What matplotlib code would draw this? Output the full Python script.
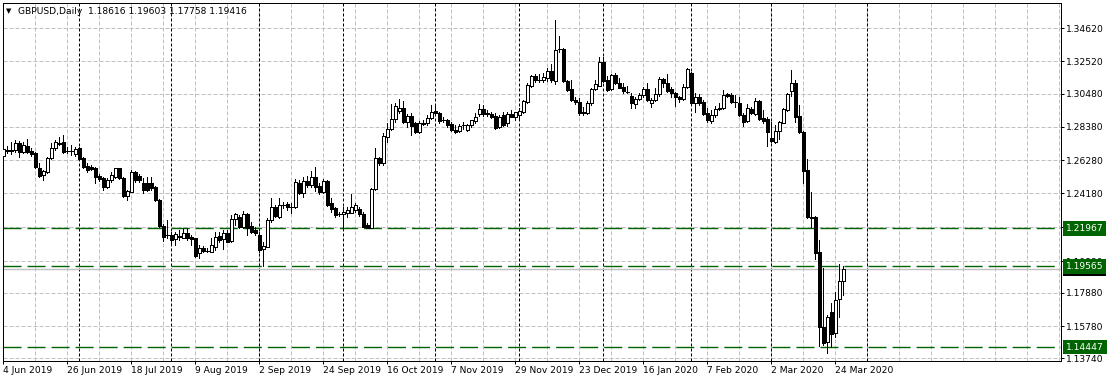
import numpy as np
import matplotlib
matplotlib.use("Agg")
import matplotlib.pyplot as plt

# GBPUSD daily candles, one entry per trading day from 4 Jun 2019
opens = [
    1.2656, 1.2692, 1.2686, 1.2692, 1.2734, 1.2681, 1.2720, 1.2686, 1.2671, 1.2580,
    1.2534, 1.2555, 1.2640, 1.2703, 1.2734, 1.2745, 1.2686, 1.2686, 1.2665, 1.2703,
    1.2643, 1.2593, 1.2586, 1.2580, 1.2526, 1.2517, 1.2460, 1.2502, 1.2523, 1.2576,
    1.2517, 1.2403, 1.2428, 1.2551, 1.2526, 1.2481, 1.2481, 1.2481, 1.2455, 1.2376,
    1.2213, 1.2154, 1.2154, 1.2127, 1.2143, 1.2137, 1.2165, 1.2143, 1.2133, 1.2038,
    1.2074, 1.2056, 1.2045, 1.2080, 1.2148, 1.2127, 1.2169, 1.2118, 1.2254, 1.2270,
    1.2207, 1.2287, 1.2211, 1.2186, 1.2154, 1.2064, 1.2080, 1.2249, 1.2329, 1.2270,
    1.2344, 1.2350, 1.2333, 1.2333, 1.2481, 1.2422, 1.2498, 1.2470, 1.2519, 1.2464,
    1.2428, 1.2498, 1.2355, 1.2323, 1.2287, 1.2287, 1.2296, 1.2296, 1.2312, 1.2317,
    1.2287, 1.2217, 1.2197, 1.2444, 1.2640, 1.2608, 1.2776, 1.2823, 1.2886, 1.2941,
    1.2956, 1.2871, 1.2907, 1.2861, 1.2808, 1.2857, 1.2861, 1.2892, 1.2939, 1.2924,
    1.2882, 1.2882, 1.2855, 1.2819, 1.2815, 1.2850, 1.2819, 1.2850, 1.2876, 1.2918,
    1.2951, 1.2924, 1.2918, 1.2907, 1.2840, 1.2913, 1.2861, 1.2918, 1.2903, 1.2913,
    1.2934, 1.2993, 1.3099, 1.3160, 1.3135, 1.3135, 1.3149, 1.3192, 1.3129, 1.3329,
    1.3331, 1.3129, 1.3078, 1.3008, 1.2993, 1.2930, 1.2928, 1.2987, 1.3078, 1.3099,
    1.3251, 1.3135, 1.3078, 1.3167, 1.3114, 1.3093, 1.3062, 1.3035, 1.2983, 1.3013,
    1.3040, 1.3076, 1.2991, 1.3008, 1.3046, 1.3139, 1.3118, 1.3076, 1.3055, 1.3029,
    1.3013, 1.3089, 1.3181, 1.2991, 1.3029, 1.2998, 1.2928, 1.2878, 1.2913, 1.2949,
    1.2956, 1.3046, 1.3040, 1.2998, 1.2991, 1.2913, 1.2878, 1.2949, 1.2920, 1.3004,
    1.2892, 1.2886, 1.2766, 1.2745, 1.2814, 1.2865, 1.2945, 1.3067, 1.3118, 1.2907,
    1.2808, 1.2565, 1.2270, 1.2268, 1.2049, 1.1574, 1.1477, 1.1669, 1.1532, 1.1747,
    1.18616,
]
highs = [
    1.2724, 1.2717, 1.2743, 1.2755, 1.2749, 1.2745, 1.2762, 1.2705, 1.2681, 1.2608,
    1.2565, 1.2650, 1.2734, 1.2755, 1.2776, 1.2787, 1.2713, 1.2724, 1.2713, 1.2713,
    1.2650, 1.2608, 1.2597, 1.2586, 1.2538, 1.2523, 1.2517, 1.2555, 1.2580, 1.2580,
    1.2523, 1.2439, 1.2565, 1.2559, 1.2538, 1.2513, 1.2523, 1.2523, 1.2467, 1.2382,
    1.2222, 1.2249, 1.2171, 1.2175, 1.2186, 1.2200, 1.2200, 1.2154, 1.2137, 1.2091,
    1.2087, 1.2070, 1.2133, 1.2175, 1.2175, 1.2186, 1.2186, 1.2281, 1.2295, 1.2281,
    1.2308, 1.2291, 1.2238, 1.2207, 1.2175, 1.2112, 1.2260, 1.2386, 1.2344, 1.2386,
    1.2365, 1.2365, 1.2355, 1.2507, 1.2502, 1.2519, 1.2527, 1.2561, 1.2582, 1.2481,
    1.2507, 1.2502, 1.2386, 1.2333, 1.2302, 1.2331, 1.2333, 1.2414, 1.2355, 1.2333,
    1.2302, 1.2228, 1.2450, 1.2703, 1.2650, 1.2801, 1.2865, 1.2983, 1.2991, 1.3013,
    1.3004, 1.2920, 1.2924, 1.2871, 1.2877, 1.2882, 1.2913, 1.2977, 1.2981, 1.2934,
    1.2903, 1.2888, 1.2871, 1.2850, 1.2857, 1.2869, 1.2857, 1.2882, 1.2926, 1.2981,
    1.2977, 1.2945, 1.2932, 1.2926, 1.2913, 1.2934, 1.2934, 1.2945, 1.2934, 1.2958,
    1.3008, 1.3114, 1.3167, 1.3171, 1.3173, 1.3177, 1.3211, 1.3236, 1.3515, 1.3413,
    1.3336, 1.3135, 1.3135, 1.3027, 1.3021, 1.2964, 1.3002, 1.3084, 1.3135, 1.3280,
    1.3280, 1.3160, 1.3173, 1.3179, 1.3148, 1.3116, 1.3097, 1.3053, 1.3025, 1.3051,
    1.3089, 1.3114, 1.3019, 1.3082, 1.3152, 1.3146, 1.3173, 1.3093, 1.3061, 1.3034,
    1.3110, 1.3209, 1.3186, 1.3051, 1.3046, 1.3008, 1.2956, 1.2945, 1.2970, 1.2987,
    1.3072, 1.3055, 1.3055, 1.3040, 1.3025, 1.2924, 1.2983, 1.2962, 1.3019, 1.3008,
    1.2945, 1.2903, 1.2871, 1.2850, 1.2877, 1.2956, 1.3055, 1.3198, 1.3135, 1.2977,
    1.2812, 1.2633, 1.2428, 1.2274, 1.2123, 1.1945, 1.1648, 1.1722, 1.1796, 1.1971,
    1.19603,
]
lows = [
    1.2641, 1.2673, 1.2667, 1.2681, 1.2650, 1.2673, 1.2673, 1.2656, 1.2576, 1.2521,
    1.2502, 1.2545, 1.2635, 1.2692, 1.2724, 1.2671, 1.2671, 1.2660, 1.2656, 1.2629,
    1.2580, 1.2555, 1.2565, 1.2481, 1.2496, 1.2439, 1.2450, 1.2491, 1.2513, 1.2508,
    1.2397, 1.2376, 1.2428, 1.2488, 1.2491, 1.2418, 1.2433, 1.2439, 1.2369, 1.2207,
    1.2116, 1.2133, 1.2102, 1.2091, 1.2123, 1.2133, 1.2123, 1.2091, 1.2017, 1.2011,
    1.2045, 1.2045, 1.2045, 1.2059, 1.2112, 1.2064, 1.2108, 1.2112, 1.2217, 1.2197,
    1.2197, 1.2154, 1.2165, 1.2154, 1.2047, 1.1958, 1.2080, 1.2238, 1.2266, 1.2260,
    1.2323, 1.2312, 1.2291, 1.2323, 1.2414, 1.2397, 1.2460, 1.2460, 1.2434, 1.2414,
    1.2418, 1.2338, 1.2302, 1.2266, 1.2274, 1.2199, 1.2270, 1.2291, 1.2302, 1.2274,
    1.2207, 1.2197, 1.2197, 1.2439, 1.2597, 1.2597, 1.2745, 1.2819, 1.2871, 1.2924,
    1.2865, 1.2839, 1.2787, 1.2801, 1.2798, 1.2847, 1.2850, 1.2885, 1.2924, 1.2861,
    1.2867, 1.2839, 1.2812, 1.2800, 1.2808, 1.2825, 1.2812, 1.2838, 1.2863, 1.2907,
    1.2907, 1.2907, 1.2894, 1.2825, 1.2831, 1.2844, 1.2844, 1.2901, 1.2882, 1.2894,
    1.2926, 1.2989, 1.3091, 1.3122, 1.3120, 1.3122, 1.3129, 1.3122, 1.3110, 1.3314,
    1.3125, 1.3065, 1.3002, 1.2983, 1.2913, 1.2913, 1.2920, 1.2977, 1.3072, 1.3097,
    1.3122, 1.3065, 1.3072, 1.3110, 1.3084, 1.3053, 1.3053, 1.2958, 1.2956, 1.3008,
    1.3029, 1.3004, 1.2962, 1.3004, 1.3034, 1.3093, 1.3061, 1.3029, 1.2970, 1.2998,
    1.3008, 1.3082, 1.2977, 1.2934, 1.2977, 1.2913, 1.2871, 1.2865, 1.2903, 1.2945,
    1.2949, 1.3029, 1.2991, 1.2966, 1.2907, 1.2844, 1.2871, 1.2920, 1.2913, 1.2882,
    1.2861, 1.2717, 1.2745, 1.2738, 1.2760, 1.2861, 1.2941, 1.3034, 1.2871, 1.2801,
    1.2485, 1.2260, 1.2207, 1.2000, 1.1452, 1.1458, 1.1410, 1.1447, 1.1509, 1.1637,
    1.17758,
]
closes = [
    1.2698, 1.2686, 1.2689, 1.2734, 1.2681, 1.2724, 1.2681, 1.2665, 1.2586, 1.2526,
    1.2559, 1.2640, 1.2707, 1.2745, 1.2731, 1.2681, 1.2683, 1.2683, 1.2698, 1.2635,
    1.2586, 1.2565, 1.2572, 1.2523, 1.2508, 1.2460, 1.2502, 1.2534, 1.2576, 1.2513,
    1.2403, 1.2433, 1.2555, 1.2502, 1.2502, 1.2439, 1.2439, 1.2451, 1.2376, 1.2213,
    1.2143, 1.2152, 1.2123, 1.2159, 1.2146, 1.2165, 1.2133, 1.2129, 1.2023, 1.2074,
    1.2053, 1.2051, 1.2091, 1.2143, 1.2123, 1.2169, 1.2112, 1.2254, 1.2287, 1.2207,
    1.2287, 1.2199, 1.2175, 1.2165, 1.2059, 1.2085, 1.2249, 1.2333, 1.2274, 1.2344,
    1.2347, 1.2329, 1.2331, 1.2491, 1.2422, 1.2498, 1.2470, 1.2519, 1.2460, 1.2428,
    1.2498, 1.2344, 1.2317, 1.2281, 1.2284, 1.2302, 1.2312, 1.2329, 1.2344, 1.2287,
    1.2207, 1.2197, 1.2444, 1.2640, 1.2608, 1.2781, 1.2823, 1.2886, 1.2970, 1.2956,
    1.2871, 1.2907, 1.2844, 1.2808, 1.2861, 1.2865, 1.2896, 1.2934, 1.2928, 1.2876,
    1.2879, 1.2850, 1.2819, 1.2809, 1.2846, 1.2848, 1.2850, 1.2882, 1.2903, 1.2951,
    1.2918, 1.2922, 1.2903, 1.2829, 1.2903, 1.2850, 1.2918, 1.2903, 1.2932, 1.2939,
    1.3002, 1.3103, 1.3160, 1.3135, 1.3133, 1.3156, 1.3192, 1.3135, 1.3325, 1.3331,
    1.3129, 1.3072, 1.3008, 1.2993, 1.2924, 1.2928, 1.2987, 1.3078, 1.3108, 1.3251,
    1.3129, 1.3072, 1.3167, 1.3114, 1.3086, 1.3065, 1.3061, 1.2987, 1.3013, 1.3040,
    1.3076, 1.3008, 1.3008, 1.3046, 1.3139, 1.3118, 1.3067, 1.3051, 1.3025, 1.3013,
    1.3089, 1.3203, 1.2991, 1.3029, 1.2991, 1.2920, 1.2882, 1.2913, 1.2949, 1.2956,
    1.3040, 1.3034, 1.2998, 1.2996, 1.2913, 1.2871, 1.2956, 1.2924, 1.3004, 1.2886,
    1.2878, 1.2808, 1.2752, 1.2814, 1.2871, 1.2949, 1.3046, 1.3118, 1.2903, 1.2808,
    1.2561, 1.2270, 1.2260, 1.2042, 1.1574, 1.1473, 1.1637, 1.1528, 1.1743, 1.1865,
    1.19416,
]

date_labels = ["4 Jun 2019", "26 Jun 2019", "18 Jul 2019", "9 Aug 2019", "2 Sep 2019",
               "24 Sep 2019", "16 Oct 2019", "7 Nov 2019", "29 Nov 2019", "23 Dec 2019",
               "16 Jan 2020", "7 Feb 2020", "2 Mar 2020", "24 Mar 2020"]
label_step = 16  # bars between date labels
month_starts = [19, 42, 64, 85, 108, 129, 150, 172, 192, 216]  # bar index of period separators

price_ticks = [1.34620, 1.32520, 1.30480, 1.28380, 1.26280, 1.24180, 1.22080,
               1.19880, 1.17880, 1.15780, 1.13740]
levels = [1.21967, 1.19565, 1.14447]
bid = 1.19416
header = "GBPUSD,Daily  1.18616 1.19603 1.17758 1.19416"

W, H = 1107, 382
px = 0.72  # one pixel in points
fs = 6.6
plt.rcParams['font.family'] = ['DejaVu Sans']

fig = plt.figure(figsize=(W / 100, H / 100), dpi=100)
ax = fig.add_axes([3 / W, 21 / H, 1058 / W, 358 / H])

o = np.array(opens)
h = np.array(highs)
l = np.array(lows)
c = np.array(closes)
x = np.arange(len(o))
up = c >= o

ax.set_xlim(-0.075, 264.4)
ax.set_ylim(1.13571, 1.3622)

# grid
for v in price_ticks:
    ax.axhline(v, color='#c0c0c0', lw=px, ls=(0, (4, 2)), zorder=1)
for i in range(8, 265, 8):
    ax.axvline(i, color='#c0c0c0', lw=px, ls=(0, (4, 2)), zorder=1)
for m in month_starts:
    ax.axvline(m, color='black', lw=px, ls=(0, (3, 2)), zorder=1.5)

# levels and bid line
for v in levels:
    ax.axhline(v, color='#006400', lw=1.0, ls=(0, (13, 4.3)), zorder=2)
ax.axhline(bid, color='#c0c0c0', lw=1.0, zorder=2)

# candles
ax.vlines(x, l, h, color='black', lw=px, zorder=3, antialiased=False)
ax.bar(x[up], (c - o)[up], bottom=o[up], width=0.62, color='white',
       edgecolor='black', lw=px, zorder=4, antialiased=False)
ax.bar(x[~up], (o - c)[~up], bottom=c[~up], width=0.62, color='black',
       edgecolor='black', lw=px, zorder=4, antialiased=False)

# axes
ax.yaxis.tick_right()
ax.set_yticks(price_ticks)
ax.set_yticklabels([f"{v:.5f}" if abs(v - 1.2208) > 1e-6 else "" for v in price_ticks])
ax.set_xticks(np.arange(len(date_labels)) * label_step)
ax.set_xticklabels(date_labels, ha='left')
ax.tick_params(axis='both', direction='out', length=3 * px, width=px,
               labelsize=fs, pad=2 * px, colors='black')
for s in ax.spines.values():
    s.set_linewidth(px)
    s.set_color('black')


def price_tag(value, face):
    ax.annotate(f"{value:.5f}", xy=(1, value), xycoords=('axes fraction', 'data'),
                xytext=(5, 0), textcoords='offset pixels', ha='left', va='center',
                color='white', size=fs,
                bbox=dict(boxstyle='square,pad=0.3', fc=face, ec='none'),
                annotation_clip=False, zorder=6)


price_tag(bid, 'black')
for v in levels:
    price_tag(v, '#006400')

fig.text(9 / W, 1 - 11 / H, "\u25bc", ha='center', va='center', size=5)
fig.text(18 / W, 1 - 11 / H, header, ha='left', va='center', size=fs)

fig.savefig("out.png", dpi=100)
